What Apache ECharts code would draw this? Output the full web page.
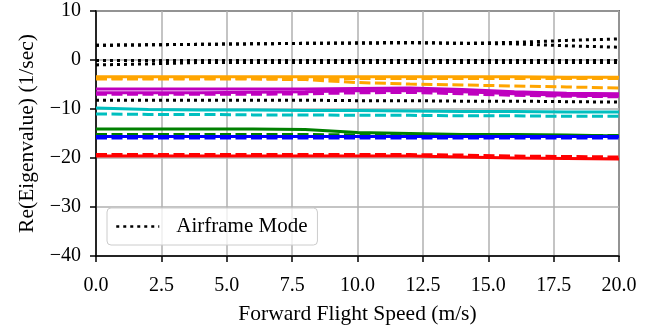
<!DOCTYPE html>
<html>
<head>
<meta charset="utf-8">
<script src="https://cdn.jsdelivr.net/npm/echarts@6/dist/echarts.min.js"></script>
<style>
  html, body { margin: 0; padding: 0; background: #fff; }
  #chart { width: 650px; height: 330px; }
</style>
</head>
<body>
<div id="chart"></div>
<script>
// Forward flight speeds (m/s) at which the eigenvalues were evaluated
const speeds = [0, 2, 4, 6, 8, 10, 12, 14, 16, 18, 20];

// Airframe modes (black dotted)
const airframeA = [3.0, 3.1, 3.2, 3.3, 3.4, 3.5, 3.6, 3.4, 3.6, 4.0, 4.3];
const airframeB = [3.0, 3.1, 3.2, 3.3, 3.4, 3.4, 3.5, 3.4, 3.3, 2.9, 2.6];
const airframeC = [-0.1, -0.1, -0.1, -0.1, -0.1, -0.1, -0.1, -0.1, -0.1, -0.1, -0.1];
const airframeD = [-1.0, -0.8, -0.5, -0.5, -0.5, -0.5, -0.5, -0.5, -0.5, -0.5, -0.5];
const airframeE = [-8.2, -8.2, -8.2, -8.2, -8.2, -8.3, -8.3, -8.4, -8.4, -8.5, -8.6];

// Orange modes
const orangeSolid = [-3.4, -3.4, -3.4, -3.4, -3.4, -3.4, -3.4, -3.4, -3.4, -3.5, -3.5];
const orangeDashA = [-3.8, -3.8, -3.8, -3.8, -3.8, -3.8, -3.8, -3.8, -3.8, -3.8, -3.8];
const orangeDashB = [-3.9, -3.9, -3.9, -3.9, -4.0, -4.6, -4.9, -5.1, -5.3, -5.5, -5.7];

// Magenta modes
const magentaSolidA = [-5.9, -5.9, -5.9, -5.9, -5.9, -5.8, -5.7, -6.0, -6.5, -6.8, -6.9];
const magentaSolidB = [-6.7, -6.7, -6.7, -6.6, -6.5, -6.3, -6.2, -6.5, -6.9, -7.2, -7.3];
const magentaDash = [-7.0, -7.0, -7.0, -7.0, -6.9, -6.7, -6.6, -6.9, -7.2, -7.4, -7.5];

// Cyan modes
const cyanSolid = [-9.8, -10.1, -10.2, -10.2, -10.3, -10.3, -10.4, -10.5, -10.5, -10.6, -10.6];
const cyanDash = [-11.0, -11.1, -11.1, -11.2, -11.2, -11.3, -11.3, -11.4, -11.4, -11.5, -11.5];

// Green modes
const greenSolid = [-14.1, -14.1, -14.1, -14.1, -14.2, -14.8, -15.0, -15.2, -15.2, -15.3, -15.5];
const greenDash = [-15.2, -15.2, -15.2, -15.2, -15.2, -15.3, -15.3, -15.3, -15.4, -15.4, -15.4];

// Blue modes
const blueSolid = [-15.6, -15.6, -15.6, -15.6, -15.6, -15.6, -15.6, -15.6, -15.6, -15.6, -15.6];
const blueDash = [-15.9, -15.9, -15.9, -15.9, -15.9, -15.9, -15.9, -15.9, -15.9, -15.9, -15.9];

// Red modes
const redSolid = [-19.6, -19.6, -19.6, -19.6, -19.6, -19.6, -19.6, -19.8, -20.0, -20.1, -20.2];
const redDash = [-19.3, -19.3, -19.3, -19.3, -19.3, -19.3, -19.3, -19.4, -19.6, -19.7, -19.8];

const yTicks = [-40, -30, -20, -10, 0, 10];
const xTicks = [0, 2.5, 5, 7.5, 10, 12.5, 15, 17.5, 20];

const FONT = '"Liberation Serif", "Times New Roman", serif';
const pairs = (ys) => speeds.map((x, i) => [x, ys[i]]);

function line(name, ys, color, kind) {
  const style = { color: color, width: 3 };
  if (kind === 'dashed') style.type = [11, 4.5];
  if (kind === 'dotted') style.type = [3, 4];
  return {
    name: name,
    type: 'line',
    data: pairs(ys),
    symbol: 'none',
    showSymbol: false,
    lineStyle: style,
    itemStyle: { color: color },
    emphasis: { disabled: true },
    animation: false,
    z: kind === 'dotted' ? 3 : 2
  };
}

const series = [
  line('orange', orangeSolid, '#FFA500', 'solid'),
  line('orange-d1', orangeDashA, '#FFA500', 'dashed'),
  line('orange-d2', orangeDashB, '#FFA500', 'dashed'),
  line('magenta-a', magentaSolidA, '#BF00BF', 'solid'),
  line('magenta-b', magentaSolidB, '#BF00BF', 'solid'),
  line('magenta-d', magentaDash, '#BF00BF', 'dashed'),
  line('cyan', cyanSolid, '#00BFBF', 'solid'),
  line('cyan-d', cyanDash, '#00BFBF', 'dashed'),
  line('green', greenSolid, '#008000', 'solid'),
  line('green-d', greenDash, '#008000', 'dashed'),
  line('blue', blueSolid, '#0000FF', 'solid'),
  line('blue-d', blueDash, '#0000FF', 'dashed'),
  line('red', redSolid, '#FF0000', 'solid'),
  line('red-d', redDash, '#FF0000', 'dashed'),
  line('Airframe Mode', airframeA, '#000000', 'dotted'),
  line('Airframe Mode', airframeB, '#000000', 'dotted'),
  line('Airframe Mode', airframeC, '#000000', 'dotted'),
  line('Airframe Mode', airframeD, '#000000', 'dotted'),
  line('Airframe Mode', airframeE, '#000000', 'dotted')
];

const minus = (v) => String(v).replace('-', '\u2212');

const chart = echarts.init(document.getElementById('chart'), null, { renderer: 'canvas' });
chart.setOption({
  animation: false,
  backgroundColor: '#ffffff',
  textStyle: { fontFamily: FONT },
  grid: {
    left: 96, right: 31, top: 11, bottom: 73,
    show: true, borderColor: '#000', borderWidth: 1.5, backgroundColor: 'transparent'
  },
  legend: {
    data: ['Airframe Mode'],
    left: 107, top: 208,
    padding: [8, 10, 8, 8],
    itemWidth: 43, itemHeight: 14,
    backgroundColor: 'rgba(255,255,255,0.8)',
    borderColor: '#cccccc', borderWidth: 1, borderRadius: 4,
    selectedMode: false,
    itemStyle: { opacity: 0 },
    lineStyle: { width: 2.5 },
    textStyle: {
      fontFamily: FONT, fontSize: 21, color: '#000',
      rich: { t: { fontFamily: FONT, fontSize: 21, color: '#000', padding: [0, 0, 0, 12] } }
    },
    formatter: (n) => '{t|' + n + '}'
  },
  xAxis: {
    type: 'value',
    min: xTicks[0], max: xTicks[xTicks.length - 1], interval: 2.5,
    name: 'Forward Flight Speed (m/s)',
    nameLocation: 'middle', nameGap: 47,
    nameTextStyle: { fontFamily: FONT, fontSize: 21.5, color: '#000' },
    axisLine: { show: true, onZero: false, lineStyle: { color: '#000', width: 1.5 } },
    axisTick: { show: true, inside: false, length: 6, lineStyle: { color: '#000', width: 1.5 } },
    axisLabel: { margin: 20, fontFamily: FONT, fontSize: 20, color: '#000', formatter: (v) => v.toFixed(1) },
    splitLine: { show: true, lineStyle: { color: '#b0b0b0', width: 1.5 } }
  },
  yAxis: {
    type: 'value',
    min: yTicks[0], max: yTicks[yTicks.length - 1], interval: 10,
    name: 'Re(Eigenvalue) (1/sec)',
    nameLocation: 'middle', nameGap: 56,
    nameTextStyle: { fontFamily: FONT, fontSize: 21.5, color: '#000' },
    axisLine: { show: true, onZero: false, lineStyle: { color: '#000', width: 1.5 } },
    axisTick: { show: true, inside: false, length: 6, lineStyle: { color: '#000', width: 1.5 } },
    axisLabel: { margin: 15, fontFamily: FONT, fontSize: 20, color: '#000', formatter: (v) => minus(v) },
    splitLine: { show: true, lineStyle: { color: '#b0b0b0', width: 1.5 } }
  },
  series: series
});
</script>
</body>
</html>
